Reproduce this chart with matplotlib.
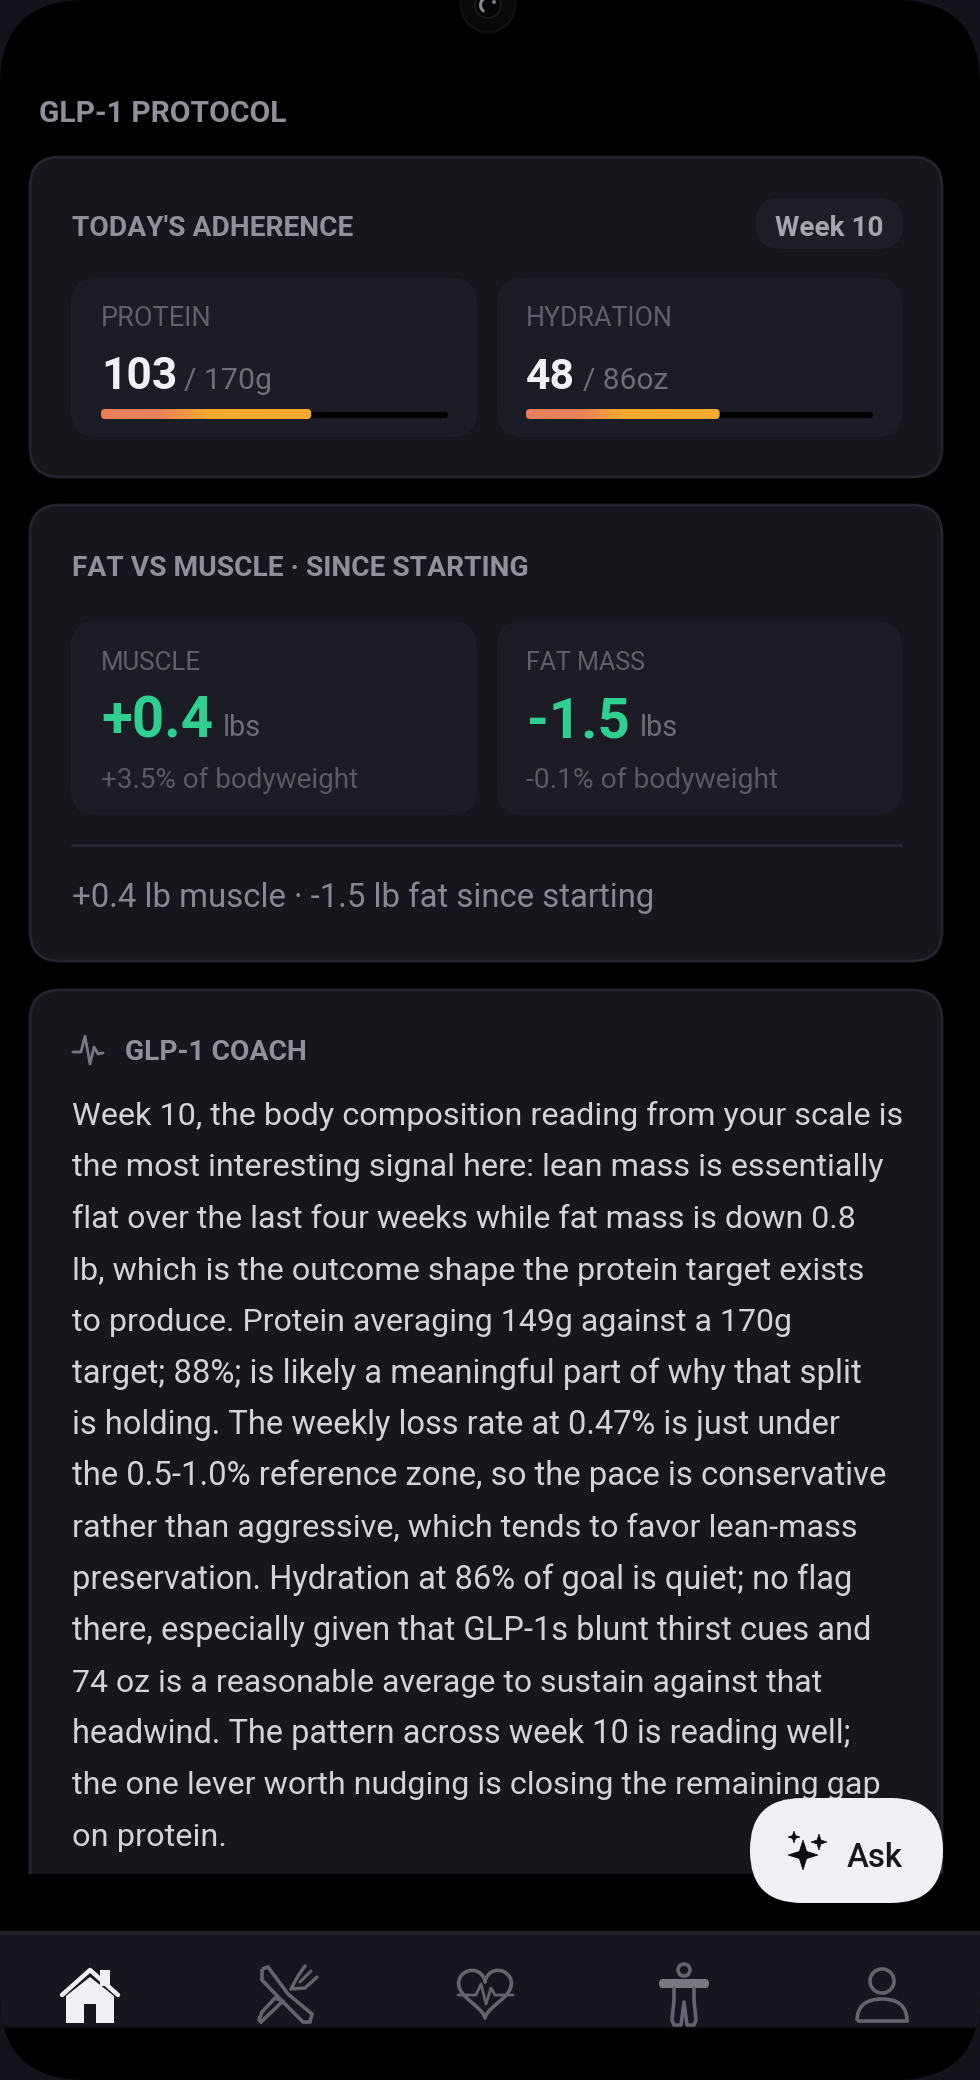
import numpy as np
import matplotlib
matplotlib.use('Agg')
import matplotlib.pyplot as plt
from matplotlib.colors import LinearSegmentedColormap
from matplotlib.patches import FancyBboxPatch, Rectangle, Circle, Polygon, PathPatch, Wedge
from matplotlib.path import Path

plt.rcParams['font.family'] = ['Roboto', 'DejaVu Sans']

# values
page_title = 'GLP-1 PROTOCOL'
week_label = 'Week 10'
adherence_title = "TODAY'S ADHERENCE"
adherence_names = ['PROTEIN', 'HYDRATION']
adherence_values = [103, 48]
adherence_goals = [170, 86]
adherence_units = ['g', 'oz']

composition_title = 'FAT VS MUSCLE · SINCE STARTING'
composition_names = ['MUSCLE', 'FAT MASS']
composition_values = ['+0.4', '-1.5']
composition_pct = ['+3.5% of bodyweight', '-0.1% of bodyweight']
composition_note = '+0.4 lb muscle · -1.5 lb fat since starting'

coach_title = 'GLP-1 COACH'
coach_lines = [
    'Week 10, the body composition reading from your scale is',
    'the most interesting signal here: lean mass is essentially',
    'flat over the last four weeks while fat mass is down 0.8',
    'lb, which is the outcome shape the protein target exists',
    'to produce. Protein averaging 149g against a 170g',
    'target; 88%; is likely a meaningful part of why that split',
    'is holding. The weekly loss rate at 0.47% is just under',
    'the 0.5-1.0% reference zone, so the pace is conservative',
    'rather than aggressive, which tends to favor lean-mass',
    'preservation. Hydration at 86% of goal is quiet; no flag',
    'there, especially given that GLP-1s blunt thirst cues and',
    '74 oz is a reasonable average to sustain against that',
    'headwind. The pattern across week 10 is reading well;',
    'the one lever worth nudging is closing the remaining gap',
    'on protein.',
]
# where each line of the coach text stops, the fonts differ a bit
coach_ends = [901, 879, 855, 862, 792, 859, 841, 885, 855, 852, 869, 819, 849, 877, 226]

# colours
OUTER = '#14151c'
CARD = '#16171d'
EDGE = '#23242e'
INNER = '#1b1c25'
GREEN = '#2fcf90'
ICON = '#63646f'
WHITE = '#f1f1f5'

fig = plt.figure(figsize=(9.8, 20.8), dpi=100, facecolor=OUTER)
ax = fig.add_axes([0, 0, 1, 1])
ax.set_xlim(0, 980)
ax.set_ylim(2080, 0)
ax.axis('off')
renderer = fig.canvas.get_renderer()


def box(x0, y0, x1, y1, r, color, edge='none', lw=0, z=2):
    p = FancyBboxPatch((x0, y0), x1 - x0, y1 - y0, boxstyle='round,pad=0,rounding_size=%s' % r,
                       fc=color, ec=edge, lw=lw, zorder=z)
    ax.add_patch(p)
    return p


# text scaled so that it spans x0..x1
def fit(s, x0, x1, y, color, weight='normal', va='baseline', z=5):
    t = ax.text(x0, y, s, color=color, fontweight=weight, va=va, ha='left', fontsize=20, zorder=z)
    w = t.get_window_extent(renderer).width
    t.set_fontsize(20 * (x1 - x0) / w)
    return t


def line(xs, ys, color=ICON, lw=2.6, z=5):
    ax.plot(xs, ys, color=color, lw=lw, solid_capstyle='round', solid_joinstyle='round', zorder=z)


def sparkle(cx, cy, r, color='#0c0c10'):
    k = r * 0.24
    verts = [(cx, cy - r), (cx + k, cy - k), (cx + r, cy), (cx + k, cy + k),
             (cx, cy + r), (cx - k, cy + k), (cx - r, cy), (cx - k, cy - k)]
    ax.add_patch(Polygon(verts, closed=True, fc=color, ec=color, lw=0.5, zorder=7))


# phone screen on the lighter outer corners
screen = box(0, 0, 980, 2080, 85, '#000000', z=1)

# camera
ax.add_patch(Circle((488, 5), 27, fc='#08080b', ec='#101015', lw=2, zorder=2))
ax.add_patch(Circle((488, 5), 13, fc='#050506', ec='#17171c', lw=1.5, zorder=3))
ax.add_patch(Wedge((488, 5), 9, 120, 230, width=3, fc='#8a8a92', zorder=4))
ax.add_patch(Circle((494, 2), 2, fc='#77777e', zorder=4))

fit(page_title, 39, 285, 114, '#8f909b', 'bold', va='center')

# adherence card
box(30, 157, 942, 477, 30, CARD, EDGE, 2)
fit(adherence_title, 72, 353, 228, '#8f909b', 'bold', va='center')
box(756, 198, 903, 249, 25, '#1d1e28')
fit(week_label, 775, 883, 228, '#a4a5af', 'bold', va='center')

grad_cmap = LinearSegmentedColormap.from_list('bar', [(0, '#e8805a'), (0.27, '#e8805a'),
                                                      (0.5, '#f5a92f'), (1, '#f5a92f')])
grad = np.linspace(0, 1, 256).reshape(1, -1)
card_x = [(71, 477), (497, 902)]
text_x = [101, 526]
track_x = [(101, 448), (526, 873)]
big_x = [(101, 177), (526, 575)]
small_x = [(184, 272), (583, 668)]
for i in range(2):
    box(card_x[i][0], 278, card_x[i][1], 437, 26, INNER)
    fit(adherence_names[i], text_x[i], text_x[i] + [111, 147][i], 319, '#5f606c', va='center')
    fit(str(adherence_values[i]), big_x[i][0], big_x[i][1], 389, WHITE, 'bold')
    fit('/ %d%s' % (adherence_goals[i], adherence_units[i]), small_x[i][0], small_x[i][1], 389, '#6d6e7a')
    x0, x1 = track_x[i]
    box(x0, 412, x1, 418, 3, '#020203', z=3)
    fill_w = (x1 - x0) * adherence_values[i] / adherence_goals[i]
    clip = box(x0, 409, x0 + fill_w, 419, 4, 'none', z=3)
    im = ax.imshow(grad, extent=(x0, x0 + fill_w, 419, 409), cmap=grad_cmap, aspect='auto', zorder=4)
    im.set_clip_path(clip)
ax.set_xlim(0, 980)
ax.set_ylim(2080, 0)

# fat vs muscle card
box(30, 505, 942, 961, 30, CARD, EDGE, 2)
fit(composition_title, 72, 528, 569, '#8f909b', 'bold', va='center')
name_x = [(101, 201), (526, 645)]
value_x = [(101, 213), (527, 630)]
unit_x = [(223, 261), (640, 678)]
pct_x = [(101, 358), (526, 778)]
for i in range(2):
    box(card_x[i][0], 621, card_x[i][1], 815, 26, INNER)
    fit(composition_names[i], name_x[i][0], name_x[i][1], 663, '#5f606c', va='center')
    fit(composition_values[i], value_x[i][0], value_x[i][1], 737, GREEN, 'bold')
    fit('lbs', unit_x[i][0], unit_x[i][1], 736, '#6d6e7a')
    fit(composition_pct[i], pct_x[i][0], pct_x[i][1], 788, '#595a66')
ax.plot([71, 902], [845, 845], color='#262731', lw=2, solid_capstyle='butt', zorder=3)
fit(composition_note, 72, 653, 907, '#878894')

# coach card, runs under the nav so only the top is rounded
coach = box(30, 990, 942, 1960, 30, CARD, EDGE, 2)
coach.set_clip_path(Rectangle((0, 980), 980, 894, transform=ax.transData))
line([73, 81, 85, 90, 94, 98, 103], [1052, 1052, 1036, 1064, 1047, 1054, 1053], '#777883', 2)
fit(coach_title, 125, 307, 1053, '#8f909b', 'bold', va='center')

for i, s in enumerate(coach_lines):
    fit(s, 72, coach_ends[i], 1125 + i * 51.5, '#d3d4d9')

# ask button
box(750, 1798, 943, 1903, 52, WHITE, z=6)
sparkle(803, 1855, 15)
sparkle(819, 1842, 8)
sparkle(794, 1837, 6)
fit('Ask', 847, 903, 1867, '#17181f', 'medium', z=7)

# nav bar
nav = Rectangle((0, 1932), 980, 95, fc='#16171e', ec='none', zorder=3)
ax.add_patch(nav)
nav.set_clip_path(screen)
ax.plot([0, 980], [1933, 1933], color='#20212b', lw=3, zorder=4)
ax.plot([0, 980], [2027, 2027], color='#0f0f14', lw=1.5, zorder=4)

# home
ax.add_patch(Polygon([(66, 1996), (90, 1977), (114, 1996), (114, 2023), (66, 2023)], fc=WHITE, zorder=5))
ax.add_patch(Rectangle((84, 2004), 12, 19, fc='#16171e', zorder=6))
ax.add_patch(Rectangle((100, 1970), 10, 16, fc=WHITE, zorder=5))
line([62, 90, 118], [1995, 1970, 1995], WHITE, 3.2, 6)

# knife and fork
knife = Path([(262, 1969), (268, 1967), (288, 1994), (312, 2014), (310, 2022), (303, 2022), (284, 2003), (262, 1980), (262, 1969)])
ax.add_patch(PathPatch(knife, fc='none', ec=ICON, lw=2.6, zorder=5))
line([261, 283, 275, 262, 259, 261], [2022, 2001, 1998, 2012, 2020, 2022], ICON, 2.6)
line([291, 298, 305], [1989, 1976, 1966], ICON, 2.4)
line([291, 305, 317], [1989, 1988, 1977], ICON, 2.4)
line([300, 311], [1982, 1971], ICON, 2.2)

# heart with pulse
t = np.linspace(0, 2 * np.pi, 120)
hx = 485 + 1.65 * 16 * np.sin(t) ** 3
hy = 1990 - 1.65 * (13 * np.cos(t) - 5 * np.cos(2 * t) - 2 * np.cos(3 * t) - np.cos(4 * t))
line(hx, hy, ICON, 2.6)
line([458, 476, 481, 486, 491, 495, 513], [1995, 1995, 1984, 2004, 1988, 1995, 1995], ICON, 2)

# figure
ax.add_patch(Circle((684, 1970), 6, fc='none', ec=ICON, lw=2.6, zorder=5))
box(659, 1979, 709, 1988, 4, '#777883', z=5)
line([674, 674, 672, 674, 681, 684, 687, 694, 696, 694, 694],
     [1988, 2000, 2020, 2025, 2025, 2002, 2025, 2025, 2020, 2000, 1988], ICON, 2.6)

# person
ax.add_patch(Circle((882, 1981), 12, fc='none', ec=ICON, lw=2.6, zorder=5))
ax.add_patch(PathPatch(Path([(857, 2021), (857, 1999), (882, 1999), (907, 1999), (907, 2021), (857, 2021)],
                            [Path.MOVETO, Path.CURVE3, Path.CURVE3, Path.CURVE3, Path.CURVE3, Path.LINETO]),
                       fc='none', ec=ICON, lw=2.6, zorder=5))

fig.savefig('out.png', dpi=100, facecolor=OUTER)
